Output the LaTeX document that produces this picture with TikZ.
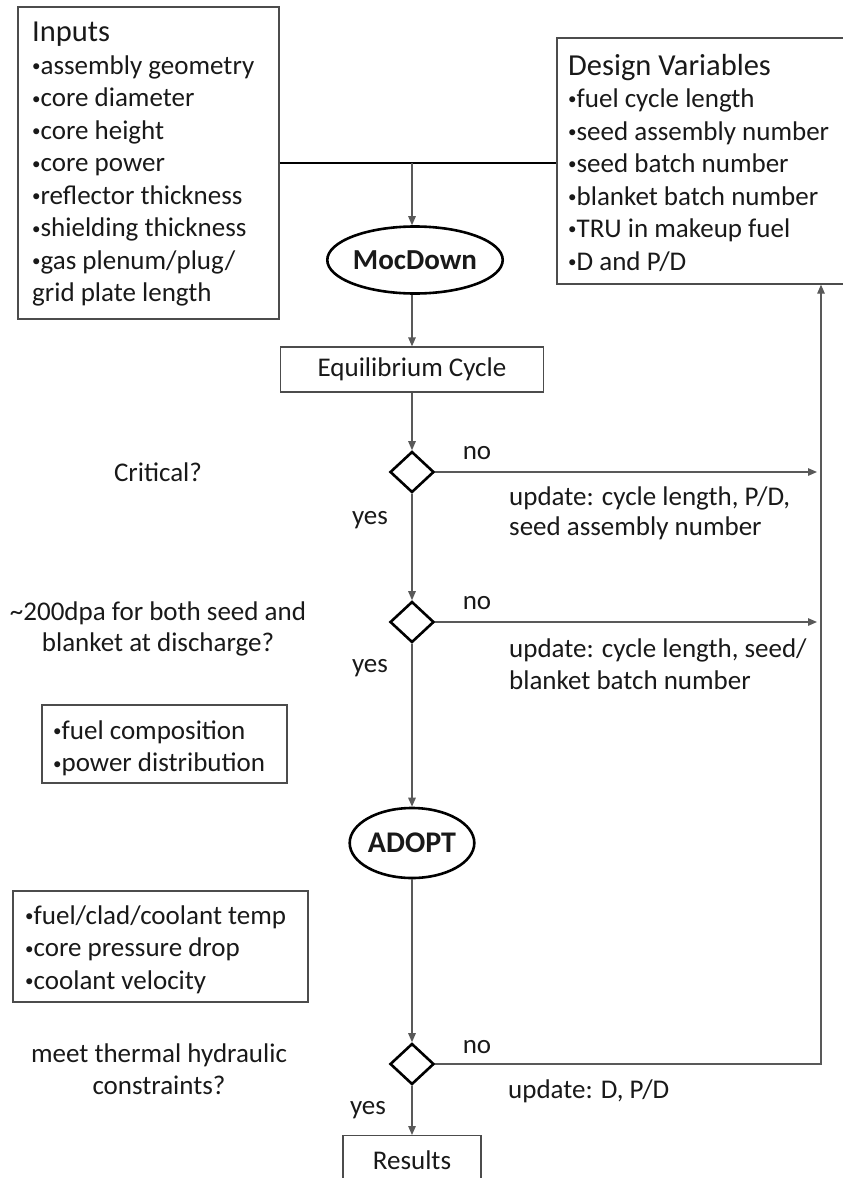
\documentclass[tikz,border=0pt]{standalone}
\usepackage{fontspec}
\setmainfont{Carlito}
\usetikzlibrary{shapes.geometric,arrows.meta}
\newcommand\bu{\raisebox{2.6pt}{\fontsize{17}{17}\selectfont •}}
\newcommand\hd[1]{{\fontsize{30.5}{32.5}\selectfont #1}}
\begin{document}
\begin{tikzpicture}[x=1pt,y=-1pt,
  every node/.style={font=\fontsize{27}{32.5}\selectfont, text=black!90},
  box/.style={draw=black!70, line width=1.3pt, rectangle, inner sep=0pt},
  proc/.style={draw=black, line width=2.6pt, ellipse, inner sep=0pt, font=\fontsize{30}{30}\selectfont\bfseries},
  dec/.style={draw=black, line width=2.6pt, diamond, minimum width=44pt, minimum height=41pt, inner sep=0pt},
  conn/.style={draw=black!65, line width=1.3pt},
  arr/.style={conn, -{Triangle[length=9pt,width=7.5pt]}},
  lbl/.style={inner sep=0pt},
]
\useasboundingbox (0,0) rectangle (843,1178);
\clip (0,0) rectangle (843,1178);

% boxes
\node[box, minimum width=261pt, minimum height=312pt] (inputs) at (148.5,163) {};
\node[lbl, anchor=west, align=left] (inputsT) at (32,164.5) {\hd{Inputs}\\\bu assembly geometry\\\bu core diameter\\\bu core height\\\bu core power\\\bu reflector thickness\\\bu shielding thickness\\\bu gas plenum/plug/\\grid plate length};

\node[box, minimum width=288pt, minimum height=246pt] (design) at (701,161) {};
\node[lbl, anchor=west, align=left] (designT) at (568,162.5) {\hd{Design Variables}\\\bu fuel cycle length\\\bu seed assembly number\\\bu seed batch number\\\bu blanket batch number\\\bu TRU in makeup fuel\\\bu D and P/D};

\node[proc, minimum width=147pt, minimum height=67pt, font=\fontsize{29}{30}\selectfont\bfseries] (moc) at (415,260) {MocDown};
\node[box, minimum width=263pt, minimum height=45pt] (eq) at (412,369.5) {Equilibrium Cycle};
\node[dec] (d1) at (412,472) {};
\node[dec] (d2) at (412,622) {};
\node[proc, minimum width=105pt, minimum height=70pt] (adopt) at (412,843) {ADOPT};
\node[dec] (d3) at (412,1064) {};
\node[box, minimum width=138pt, minimum height=70pt, anchor=north] (results) at (412,1135) {};
\node[lbl] (resultsT) at (412,1160) {Results};

\node[box, minimum width=245pt, minimum height=78pt] (fc) at (164.5,744) {};
\node[lbl, anchor=west, align=left] (fcT) at (53,748.5) {\bu fuel composition\\\bu power distribution};
\node[box, minimum width=295pt, minimum height=111pt] (th) at (160.5,946.5) {};
\node[lbl, anchor=west, align=left] (thT) at (25,949.5) {\bu fuel/clad/coolant temp\\\bu core pressure drop\\\bu coolant velocity};

% question texts
\node[lbl] (q1) at (158,472) {Critical?};
\node[lbl, align=center, font=\fontsize{27}{31}\selectfont] (q2) at (158,628.5) {\textasciitilde 200dpa for both seed and\\blanket at discharge?};
\node[lbl, align=center] (q3) at (159,1069) {meet thermal hydraulic\\constraints?};

% labels
\node[lbl] (no1) at (477,453) {no};
\node[lbl] (no2) at (477,603) {no};
\node[lbl] (no3) at (477,1047) {no};
\node[lbl] (yes1) at (370,520) {yes};
\node[lbl] (yes2) at (370,668) {yes};
\node[lbl] (yes3) at (368,1110) {yes};
\node[lbl, anchor=west, align=left, font=\fontsize{27}{30}\selectfont] (u1) at (509,513) {update: cycle length, P/D,\\seed assembly number};
\node[lbl, anchor=west, align=left, font=\fontsize{27}{32}\selectfont] (u2) at (509,664) {update: cycle length, seed/\\blanket batch number};
\node[lbl, anchor=west] (u3) at (508,1091) {update: D, P/D};

% connectors
\coordinate (j) at (412,163);
\coordinate (rx) at (817,0);
\coordinate (rb) at (821,1064);
\draw[draw=black, line width=2.8pt] (inputs.east) -- (inputs.east -| design.west);
\draw[arr] (j) -- (j |- moc.north);
\draw[arr] (eq.north |- moc.south) -- (eq.north);
\draw[arr] (eq.south) -- (d1.north);
\draw[arr] (d1.south) -- (d2.north);
\draw[arr] (d2.south) -- (adopt.north);
\draw[arr] (adopt.south) -- (d3.north);
\draw[arr] (d3.south) -- (results.north);
\draw[arr] (d1.east) -- (d1.east -| rx);
\draw[arr] (d2.east) -- (d2.east -| rx);
\draw[arr] (d3.east) -- (rb) -- (rb |- design.south);
\end{tikzpicture}
\end{document}
